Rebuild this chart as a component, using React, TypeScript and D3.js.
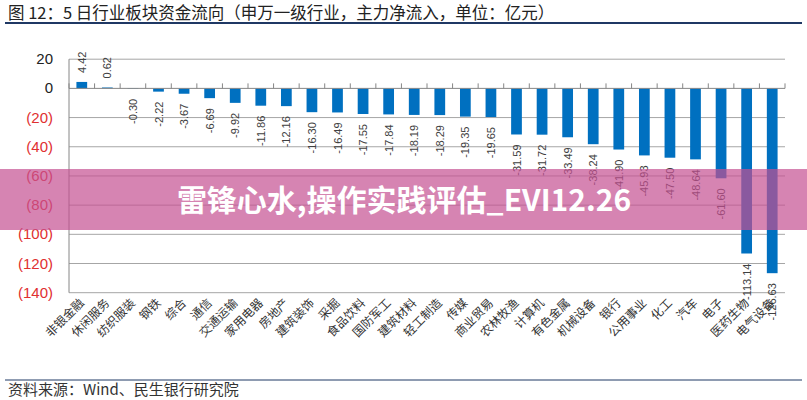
import React from "react";
import * as d3 from "d3";

const categories = ["非银金融","休闲服务","纺织服装","钢铁","综合","通信","交通运输","家用电器","房地产","建筑装饰","采掘","食品饮料","国防军工","建筑材料","轻工制造","传媒","商业贸易","农林牧渔","计算机","有色金属","机械设备","银行","公用事业","化工","汽车","电子","医药生物","电气设备"];
const values = [4.42,0.62,-0.30,-2.22,-3.67,-6.69,-9.92,-11.86,-12.16,-16.30,-16.49,-17.55,-17.84,-18.19,-18.29,-19.35,-19.65,-31.59,-31.72,-33.49,-38.24,-41.90,-45.93,-47.50,-48.64,-61.60,-113.14,-126.63];
const yTicks = [20,0,-20,-40,-60,-80,-100,-120,-140];
const title = "图 12：5 日行业板块资金流向（申万一级行业，主力净流入，单位：亿元）";
const source = "资料来源：Wind、民生银行研究院";
const watermark = "雷锋心水,操作实践评估_EVI12.26";

const W = 807, H = 400;
const plotLeft = 69, plotRight = 785, plotTop = 59.2, plotBottom = 292.7;

export default function App() {
  const x = d3.scaleBand<string>().domain(categories).range([plotLeft, plotRight]).paddingInner(0).paddingOuter(0);
  const y = d3.scaleLinear().domain([-140, 20]).range([plotBottom, plotTop]);
  const bw = x.bandwidth() * 0.42;
  const y0 = y(0);
  const fmtTick = (v: number) => (v < 0 ? `(${Math.abs(v)})` : `${v}`);
  const cjk = "'Noto Sans CJK SC', 'Noto Sans', sans-serif";
  const num = "'Liberation Sans', Arial, sans-serif";
  const boundaries = d3.range(categories.length + 1).map((i) => plotLeft + i * x.step());
  return (
    <svg width={W} height={H} style={{ position: "absolute", left: 0, top: 0, background: "#fff" }}>
      <text x={8} y={19} fontFamily={cjk} fontSize={16.5} fill="#222">{title}</text>
      <line x1={5} x2={802} y1={23} y2={23} stroke="#1f3864" strokeWidth={2} />

      {yTicks.filter((t) => t !== 0).map((t) => (
        <line key={t} x1={plotLeft} x2={plotRight} y1={y(t)} y2={y(t)} stroke="#a6a6a6" strokeWidth={1} />
      ))}
      <line x1={plotLeft} x2={plotLeft} y1={plotTop} y2={plotBottom} stroke="#868686" strokeWidth={1} />
      {yTicks.map((t) => (
        <text key={t} x={53} y={y(t) + 5} textAnchor="end" fontFamily={num} fontSize={15} fill={t < 0 ? "#e03030" : "#222"}>{fmtTick(t)}</text>
      ))}

      {categories.map((c, i) => {
        const v = values[i];
        const cx = x(c)! + x.bandwidth() / 2;
        const top = Math.min(y(v), y0);
        const h = Math.abs(y(v) - y0);
        return <rect key={c} x={cx - bw / 2} y={top} width={bw} height={h} fill="#0070c0" />;
      })}

      <line x1={plotLeft} x2={plotRight} y1={y0} y2={y0} stroke="#868686" strokeWidth={1} />
      {boundaries.map((bx, i) => (
        <line key={i} x1={bx} x2={bx} y1={y0 - 5} y2={y0} stroke="#868686" strokeWidth={1} />
      ))}

      {categories.map((c, i) => {
        const v = values[i];
        const cx = x(c)! + x.bandwidth() / 2 + 4;
        const ly = v >= 0 ? y(v) - 9 : y(v) + 10;
        return (
          <text key={c} transform={`translate(${cx},${ly}) rotate(-90)`} textAnchor={v >= 0 ? "start" : "end"} fontFamily={num} fontSize={11} fill="#404040">{v.toFixed(2)}</text>
        );
      })}

      {categories.map((c) => {
        const cx = x(c)! + x.bandwidth() / 2 + 3;
        return (
          <text key={c} transform={`translate(${cx},${plotBottom + 11}) rotate(-45)`} textAnchor="end" fontFamily={cjk} fontSize={12} fill="#333">{c}</text>
        );
      })}

      <rect x={0} y={169} width={W} height={61} fill="rgb(196,80,145)" opacity={0.7} />
      <text x={404} y={211} textAnchor="middle" fontFamily={cjk} fontWeight="bold" fontSize={30} fill="#fff">{watermark}</text>

      <line x1={5} x2={802} y1={380} y2={380} stroke="#1f3864" strokeWidth={1} />
      <text x={8} y={395} fontFamily={cjk} fontSize={15} fill="#333">{source}</text>
    </svg>
  );
}
